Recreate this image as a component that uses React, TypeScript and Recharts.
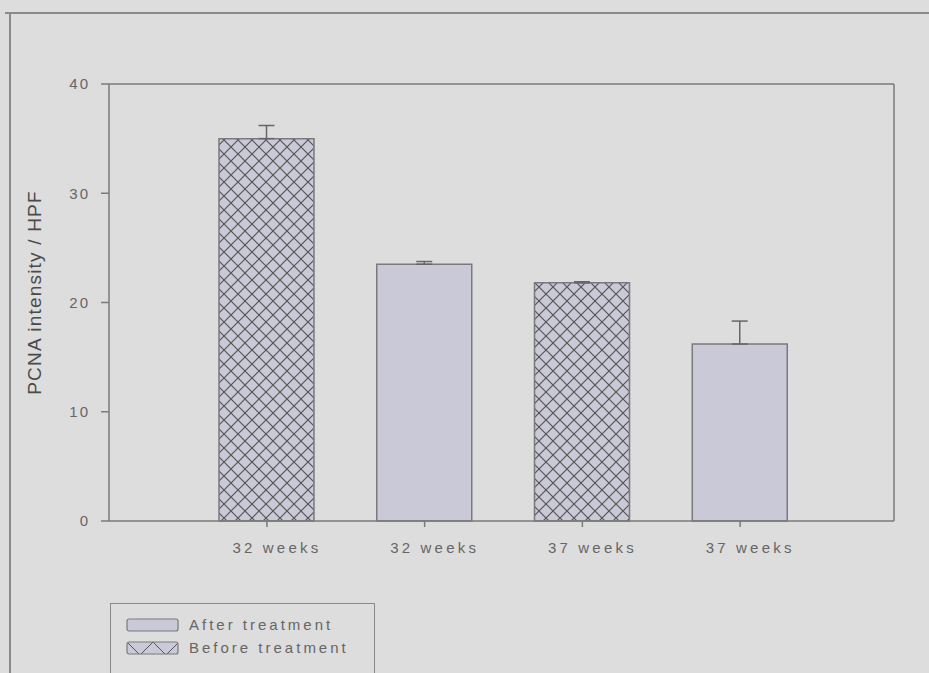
import { BarChart, Bar, XAxis, YAxis, ErrorBar, Cell, Legend } from "recharts";

const weeks = ["32 weeks", "32 weeks", "37 weeks", "37 weeks"];
const groups = ["Before treatment", "After treatment", "Before treatment", "After treatment"];
const means = [35.0, 23.5, 21.8, 16.2];
const upperErrors = [1.2, 0.25, 0.1, 2.1];
const yTicks = [0, 10, 20, 30, 40];
const legendItems = ["After treatment", "Before treatment"];

const data = weeks.map((w, i) => ({
  id: i,
  week: w,
  group: groups[i],
  mean: means[i],
  err: [0, upperErrors[i]],
}));

const BG = "#dddddd";
const BAR_FILL = "#c9c9d8";
const LINE = "#7a7a7a";
const TEXT = "#666666";
const FONT = "'Liberation Sans', Arial, sans-serif";

const LegendBox = () => (
  <div
    style={{
      width: 265,
      height: 80,
      border: "1px solid #8a8a8a",
      boxSizing: "border-box",
      fontFamily: FONT,
      fontSize: 15,
      color: TEXT,
      letterSpacing: 3,
      position: "relative",
    }}
  >
    {legendItems.map((name, i) => (
      <div
        key={name}
        style={{ position: "absolute", left: 15, top: 14 + i * 23, display: "flex", alignItems: "center" }}
      >
        <svg width={53} height={14}>
          <rect
            x={1}
            y={1}
            width={51}
            height={12}
            rx={2}
            fill={name.startsWith("Before") ? "url(#hatchLegend)" : BAR_FILL}
            stroke={LINE}
            strokeWidth={1.2}
          />
        </svg>
        <span style={{ marginLeft: 10, lineHeight: "14px" }}>{name}</span>
      </div>
    ))}
  </div>
);

export default function App() {
  return (
    <div
      style={{
        position: "absolute",
        left: 0,
        top: 0,
        width: 929,
        height: 673,
        background: BG,
        overflow: "hidden",
      }}
    >
      <div style={{ position: "absolute", left: 5, top: 12, width: 924, height: 1.5, background: "#8a8a8a" }} />
      <div style={{ position: "absolute", left: 9, top: 12, width: 1.5, height: 661, background: "#8a8a8a" }} />
      <BarChart
        width={929}
        height={673}
        data={data}
        margin={{ top: 83, right: 34, left: 0, bottom: 112 }}
        barSize={95}
        style={{ position: "absolute", left: 0, top: 0 }}
      >
        <defs>
          <pattern id="hatch" patternUnits="userSpaceOnUse" width={14} height={14}>
            <rect width={14} height={14} fill={BAR_FILL} />
            <path d="M0,0 L14,14 M14,0 L0,14" stroke="#555" strokeWidth={1.2} />
          </pattern>
          <pattern id="hatchLegend" patternUnits="userSpaceOnUse" width={26} height={26} x={1} y={1}>
            <rect width={26} height={26} fill={BAR_FILL} />
            <path d="M0,0 L26,26 M26,0 L0,26" stroke="#555" strokeWidth={1} />
          </pattern>
        </defs>
        <XAxis
          dataKey="id"
          type="category"
          height={40}
          padding={{ left: 79, right: 75 }}
          tickFormatter={(v: number) => weeks[v]}
          tick={{ fill: TEXT, fontSize: 15, fontFamily: FONT, letterSpacing: 3.2, dx: 10 }}
          tickSize={6}
          tickMargin={15}
          tickLine={{ stroke: LINE, strokeWidth: 1.5 }}
          axisLine={{ stroke: LINE, strokeWidth: 1.5 }}
        />
        <XAxis
          xAxisId="top"
          dataKey="id"
          orientation="top"
          height={1}
          tick={false}
          tickLine={false}
          axisLine={{ stroke: LINE, strokeWidth: 1.5 }}
        />
        <YAxis
          width={109}
          domain={[0, 40]}
          ticks={yTicks}
          tick={{ fill: TEXT, fontSize: 15, fontFamily: FONT, letterSpacing: 2 }}
          tickSize={8}
          tickMargin={11}
          tickLine={{ stroke: LINE, strokeWidth: 1.5 }}
          axisLine={{ stroke: LINE, strokeWidth: 1.5 }}
          label={{
            value: "PCNA intensity / HPF",
            angle: -90,
            position: "insideLeft",
            offset: 34,
            dy: -10,
            style: { fill: "#4a4a4a", fontSize: 19, fontFamily: FONT, textAnchor: "middle", letterSpacing: 1.2 },
          }}
        />
        <YAxis
          yAxisId="right"
          orientation="right"
          width={1}
          domain={[0, 40]}
          tick={false}
          tickLine={false}
          axisLine={{ stroke: LINE, strokeWidth: 1.5 }}
        />
        <Legend
          layout="vertical"
          align="center"
          verticalAlign="middle"
          wrapperStyle={{ left: 110, top: 603, width: 265, height: 80 }}
          content={() => <LegendBox />}
        />
        <Bar dataKey="mean" stroke={LINE} strokeWidth={1.5} isAnimationActive={false}>
          {data.map((d) => (
            <Cell key={d.id} fill={d.group.startsWith("Before") ? "url(#hatch)" : BAR_FILL} />
          ))}
          <ErrorBar dataKey="err" direction="y" width={8} stroke="#666" strokeWidth={1.5} isAnimationActive={false} />
        </Bar>
      </BarChart>
    </div>
  );
}
